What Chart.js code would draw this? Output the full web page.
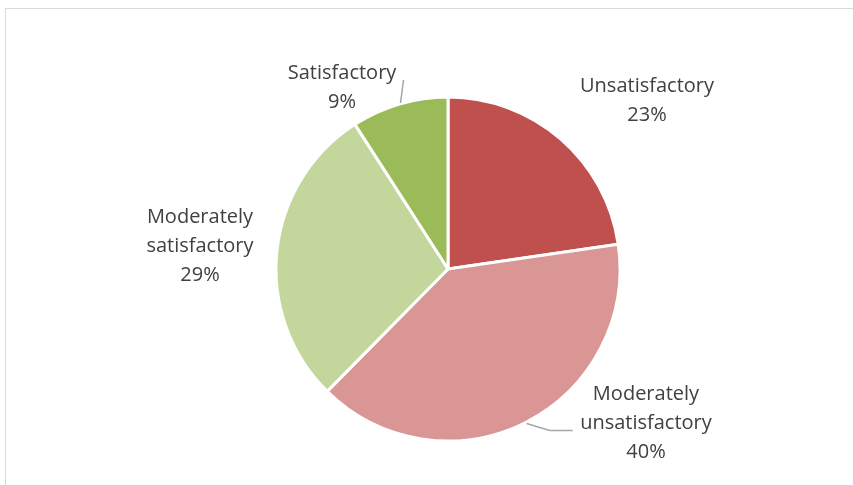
<!DOCTYPE html>
<html>
<head>
<meta charset="utf-8">
<script src="https://cdn.jsdelivr.net/npm/chart.js@4.4.0/dist/chart.umd.min.js"></script>
<style>
  html, body { margin: 0; padding: 0; background: #fff; }
  body { width: 853px; height: 485px; position: relative; overflow: hidden; }
  .frame { position: absolute; left: 5px; top: 8px; width: 900px; height: 500px; border: 1px solid #d9d9d9; border-right: none; border-bottom: none; }
  .wrap { position: absolute; left: 0; top: 0; width: 853px; height: 485px; }
</style>
</head>
<body>
<div class="frame"></div>
<div class="wrap"><canvas id="pie"></canvas></div>
<script>
// slices, clockwise from 12 o'clock
const categories = ['Unsatisfactory', 'Moderately unsatisfactory', 'Moderately satisfactory', 'Satisfactory'];
const shares = [22.7, 39.7, 28.5, 9.1];
const labelLines = [
  ['Unsatisfactory'],
  ['Moderately', 'unsatisfactory'],
  ['Moderately', 'satisfactory'],
  ['Satisfactory']
];
const colors = ['#c0504d', '#d99694', '#c3d69b', '#9bbb59'];

// label anchors, in pie radii from the centre
const anchors = [[1.157, -0.977], [1.151, 0.895], [-1.442, -0.134], [-0.616, -1.052]];

const outsideLabels = {
  id: 'outsideLabels',
  afterDatasetsDraw(chart) {
    const ctx = chart.ctx;
    const meta = chart.getDatasetMeta(0);
    const lineH = 29;
    ctx.save();
    ctx.font = '20px "Open Sans", sans-serif';
    ctx.fillStyle = '#404040';
    ctx.textAlign = 'center';
    ctx.textBaseline = 'middle';
    meta.data.forEach((arc, i) => {
      const r = arc.outerRadius;
      const cx = arc.x + anchors[i][0] * r;
      const cy = arc.y + anchors[i][1] * r;
      const lines = labelLines[i].concat([Math.round(shares[i]) + '%']);
      const top = cy - (lines.length - 1) * lineH / 2;
      lines.forEach((t, k) => ctx.fillText(t, cx, top + k * lineH));

      // leader lines for the two labels that sit away from their slice
      const mid = (arc.startAngle + arc.endAngle) / 2;
      const ex = arc.x + Math.cos(mid) * r;
      const ey = arc.y + Math.sin(mid) * r;
      ctx.strokeStyle = '#a6a6a6';
      ctx.lineWidth = 1.5;
      if (categories[i] === 'Satisfactory') {
        ctx.beginPath();
        ctx.moveTo(ex + 1, ey - 1);
        ctx.lineTo(ex + 4, ey - 24);
        ctx.stroke();
      } else if (categories[i] === 'Moderately unsatisfactory') {
        ctx.beginPath();
        ctx.moveTo(ex + 1, ey + 1);
        ctx.lineTo(ex + 24, ey + 8);
        ctx.lineTo(ex + 47, ey + 8);
        ctx.stroke();
      }
    });
    ctx.restore();
  }
};

new Chart(document.getElementById('pie'), {
  type: 'pie',
  data: {
    labels: categories,
    datasets: [{
      data: shares,
      backgroundColor: colors,
      borderColor: '#ffffff',
      borderWidth: 3
    }]
  },
  options: {
    responsive: true,
    maintainAspectRatio: false,
    animation: false,
    radius: 172,
    layout: { padding: { left: 100, right: 57, top: 80, bottom: 27 } },
    plugins: {
      legend: { display: false },
      tooltip: { enabled: false }
    }
  },
  plugins: [outsideLabels]
});
</script>
</body>
</html>
